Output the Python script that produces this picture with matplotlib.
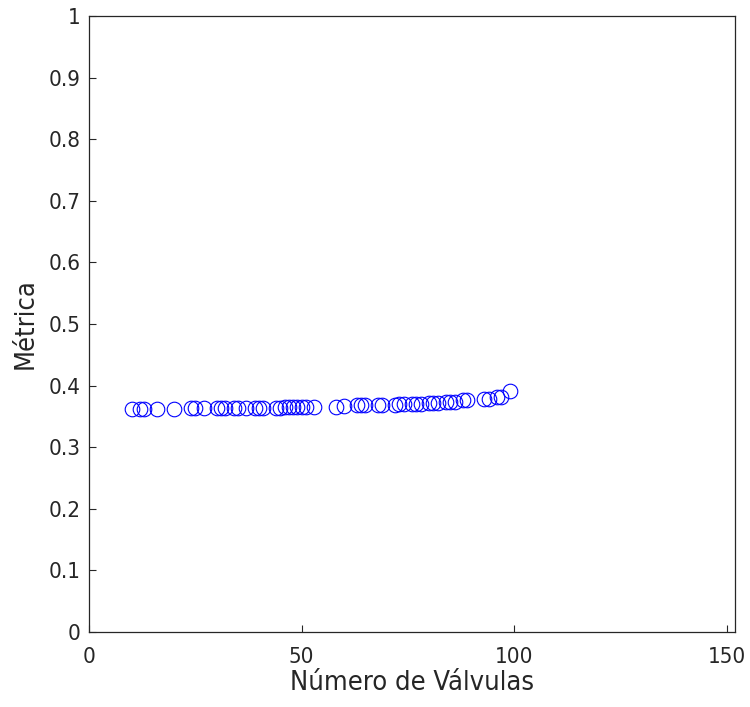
import numpy as np
import matplotlib.pyplot as plt

# datos
valvulas = [10, 12, 13, 16, 20, 24, 25, 27, 30, 31, 32, 34, 35, 37, 39, 40, 41,
            44, 45, 46, 47, 48, 49, 50, 51, 53, 58, 60, 63, 64, 65, 68, 69, 72,
            73, 74, 76, 77, 78, 80, 81, 82, 84, 85, 86, 88, 89, 93, 94, 96, 97, 99]
metrica = [0.362, 0.362, 0.362, 0.362, 0.362, 0.363, 0.363, 0.363, 0.363, 0.363,
           0.363, 0.363, 0.364, 0.364, 0.364, 0.364, 0.364, 0.364, 0.364, 0.365,
           0.365, 0.365, 0.365, 0.365, 0.365, 0.365, 0.366, 0.367, 0.368, 0.368,
           0.368, 0.369, 0.369, 0.369, 0.370, 0.370, 0.370, 0.370, 0.370, 0.371,
           0.371, 0.372, 0.373, 0.373, 0.374, 0.376, 0.377, 0.378, 0.378, 0.381,
           0.382, 0.391]

plt.rcParams['font.family'] = 'DejaVu Sans'
plt.rcParams['font.stretch'] = 'condensed'
fig = plt.figure(figsize=(7.5, 7.07), dpi=100)
ax = fig.add_axes([0.1187, 0.1061, 0.8613, 0.8713])

ax.plot(valvulas, metrica, 'o', mfc='none', mec='blue', ms=10.5, mew=0.8)

ax.set_xlim(0, 152)
ax.set_ylim(0, 1)
ax.set_xticks([0, 50, 100, 150])
ax.set_yticks(np.arange(0, 1.01, 0.1))
ax.set_yticklabels(['0', '0.1', '0.2', '0.3', '0.4', '0.5', '0.6', '0.7', '0.8', '0.9', '1'])
ax.tick_params(direction='in', length=5, width=0.8, colors='#262626', labelsize=16)
ax.tick_params(axis='x', pad=11)
ax.tick_params(axis='y', pad=6)
for s in ax.spines.values():
    s.set_color('#262626')
    s.set_linewidth(0.9)

ax.set_xlabel('Número de Válvulas', fontsize=19.5, color='#262626', labelpad=2)
ax.set_ylabel('Métrica', fontsize=19.5, color='#262626', labelpad=7)

fig.savefig('out.png', dpi=100)
